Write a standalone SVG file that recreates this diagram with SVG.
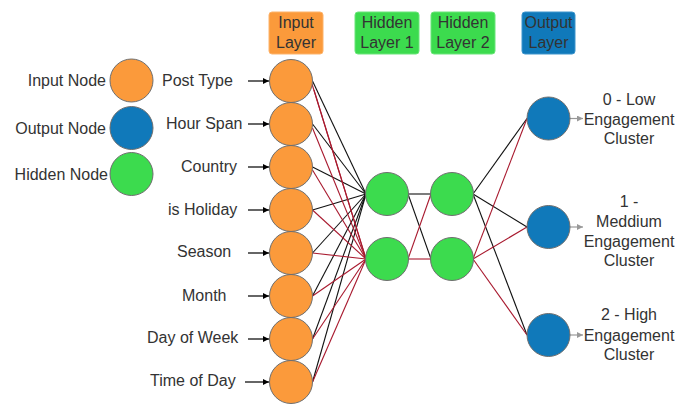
<svg xmlns="http://www.w3.org/2000/svg" width="694" height="406" viewBox="0 0 694 406">
  <style>
    text { font-family: "Liberation Sans", Arial, sans-serif; font-size: 16px; fill: #333333; }
    .mid { text-anchor: middle; }
    .end { text-anchor: end; }
    .node { stroke: #6e6e6e; stroke-width: 1; }
    .in { fill: #fb9a3b; }
    .hid { fill: #3cdb4e; }
    .out { fill: #1079ba; }
    .pos { stroke: #111111; stroke-width: 1.1; fill: none; }
    .neg { stroke: #a8192e; stroke-width: 1.1; fill: none; }
    .feed { stroke: #000000; stroke-width: 1.2; marker-end: url(#arrowIn); }
    .emit { stroke: #999999; stroke-width: 1.2; marker-end: url(#arrowOut); }
  </style>
  <defs>
    <marker id="arrowIn" viewBox="0 0 10 10" refX="10" refY="5" markerWidth="7" markerHeight="6" markerUnits="userSpaceOnUse" orient="auto">
      <path d="M0,0 L10,5 L0,10 z" fill="#000000"/>
    </marker>
    <marker id="arrowOut" viewBox="0 0 10 10" refX="10" refY="5" markerWidth="7" markerHeight="6" markerUnits="userSpaceOnUse" orient="auto">
      <path d="M0,0 L10,5 L0,10 z" fill="#999999"/>
    </marker>
  </defs>

  <!-- layer headers -->
  <g id="hdr-input">
    <rect x="269" y="12" width="54" height="42" rx="3" fill="#fb9a3b" stroke="#fdb36b" stroke-width="1"/>
    <text class="mid" x="296" y="28">Input</text>
    <text class="mid" x="296" y="48">Layer</text>
  </g>
  <g id="hdr-hidden1">
    <rect x="355" y="12" width="64" height="42" rx="3" fill="#3cdb4e" stroke="#6be57a" stroke-width="1"/>
    <text class="mid" x="387" y="28">Hidden</text>
    <text class="mid" x="387" y="48">Layer 1</text>
  </g>
  <g id="hdr-hidden2">
    <rect x="431" y="12" width="64" height="42" rx="3" fill="#3cdb4e" stroke="#6be57a" stroke-width="1"/>
    <text class="mid" x="463" y="28">Hidden</text>
    <text class="mid" x="463" y="48">Layer 2</text>
  </g>
  <g id="hdr-output">
    <rect x="522" y="12" width="53" height="42" rx="3" fill="#1079ba" stroke="#3d95cc" stroke-width="1"/>
    <text class="mid" x="548.5" y="28">Output</text>
    <text class="mid" x="548.5" y="48">Layer</text>
  </g>

  <!-- legend -->
  <g id="legend-input">
    <circle class="node in" cx="131.5" cy="80.5" r="21.5"/>
    <text class="end" x="106" y="86">Input Node</text>
  </g>
  <g id="legend-output">
    <circle class="node out" cx="131.5" cy="128" r="21.5"/>
    <text class="end" x="106" y="134">Output Node</text>
  </g>
  <g id="legend-hidden">
    <circle class="node hid" cx="131.5" cy="174" r="21.5"/>
    <text class="end" x="108" y="180">Hidden Node</text>
  </g>

  <!-- connectors -->
  <g id="connectors">
    <!-- feature feeds -->
    <line class="feed" x1="248" y1="81" x2="269" y2="81"/>
    <line class="feed" x1="248" y1="124" x2="269" y2="124"/>
    <line class="feed" x1="248" y1="167" x2="269" y2="167"/>
    <line class="feed" x1="248" y1="210" x2="269" y2="210"/>
    <line class="feed" x1="248" y1="253" x2="269" y2="253"/>
    <line class="feed" x1="248" y1="296" x2="269" y2="296"/>
    <line class="feed" x1="248" y1="339" x2="269" y2="339"/>
    <line class="feed" x1="245" y1="382" x2="269" y2="382"/>

    <!-- input to hidden 1 -->
    <line class="pos" x1="312.5" y1="81" x2="366" y2="194"/>
    <line class="pos" x1="312.5" y1="124" x2="366" y2="194"/>
    <line class="pos" x1="312.5" y1="167" x2="366" y2="194"/>
    <line class="pos" x1="312.5" y1="210" x2="366" y2="194"/>
    <line class="pos" x1="312.5" y1="253" x2="366" y2="194"/>
    <line class="pos" x1="312.5" y1="296" x2="366" y2="194"/>
    <line class="pos" x1="312.5" y1="339" x2="366" y2="194"/>
    <line class="pos" x1="312.5" y1="382" x2="366" y2="194"/>
    <line class="neg" x1="312" y1="84" x2="366" y2="259"/>
    <line class="neg" x1="314" y1="90" x2="366" y2="259"/>
    <line class="neg" x1="312.5" y1="128" x2="366" y2="259"/>
    <line class="neg" x1="312.5" y1="170" x2="366" y2="259"/>
    <line class="neg" x1="312.5" y1="210" x2="366" y2="259"/>
    <line class="neg" x1="312.5" y1="253" x2="366" y2="259"/>
    <line class="neg" x1="312.5" y1="296" x2="366" y2="259"/>
    <line class="neg" x1="312.5" y1="339" x2="366" y2="259"/>
    <line class="neg" x1="312.5" y1="382" x2="366" y2="259"/>

    <!-- hidden 1 to hidden 2 -->
    <line class="pos" x1="408" y1="194" x2="431" y2="194"/>
    <line class="pos" x1="408" y1="194" x2="431" y2="259"/>
    <line class="neg" x1="408" y1="259" x2="431" y2="194"/>
    <line class="neg" x1="408" y1="259" x2="431" y2="259"/>

    <!-- hidden 2 to output -->
    <line class="pos" x1="473" y1="194" x2="527" y2="118.5"/>
    <line class="pos" x1="473" y1="194" x2="527" y2="227"/>
    <line class="pos" x1="473" y1="194" x2="527" y2="335"/>
    <line class="neg" x1="473" y1="259" x2="527" y2="118.5"/>
    <line class="neg" x1="473" y1="259" x2="527" y2="227"/>
    <line class="neg" x1="473" y1="259" x2="527" y2="335"/>

    <!-- output emits -->
    <line class="emit" x1="570" y1="118.5" x2="583" y2="118.5"/>
    <line class="emit" x1="570" y1="227" x2="583" y2="227"/>
    <line class="emit" x1="570" y1="335" x2="583" y2="335"/>
  </g>

  <!-- input layer -->
  <g id="in-post-type">
    <circle class="node in" cx="291" cy="81" r="21.5"/>
    <text x="162" y="86">Post Type</text>
  </g>
  <g id="in-hour-span">
    <circle class="node in" cx="291" cy="124" r="21.5"/>
    <text x="166" y="129">Hour Span</text>
  </g>
  <g id="in-country">
    <circle class="node in" cx="291" cy="167" r="21.5"/>
    <text x="181" y="172">Country</text>
  </g>
  <g id="in-is-holiday">
    <circle class="node in" cx="291" cy="210" r="21.5"/>
    <text x="168" y="215">is Holiday</text>
  </g>
  <g id="in-season">
    <circle class="node in" cx="291" cy="253" r="21.5"/>
    <text x="177" y="257">Season</text>
  </g>
  <g id="in-month">
    <circle class="node in" cx="291" cy="296" r="21.5"/>
    <text x="182" y="301">Month</text>
  </g>
  <g id="in-day-of-week">
    <circle class="node in" cx="291" cy="339" r="21.5"/>
    <text x="147" y="343">Day of Week</text>
  </g>
  <g id="in-time-of-day">
    <circle class="node in" cx="291" cy="382" r="21.5"/>
    <text x="150" y="386">Time of Day</text>
  </g>

  <!-- hidden layers -->
  <g id="h1-a"><circle class="node hid" cx="387" cy="194" r="21.5"/></g>
  <g id="h1-b"><circle class="node hid" cx="387" cy="259" r="21.5"/></g>
  <g id="h2-a"><circle class="node hid" cx="452" cy="194" r="21.5"/></g>
  <g id="h2-b"><circle class="node hid" cx="452" cy="259" r="21.5"/></g>

  <!-- output layer -->
  <g id="out-low">
    <circle class="node out" cx="548.5" cy="118.5" r="21.5"/>
    <text class="mid" x="629" y="105">0 - Low</text>
    <text class="mid" x="629" y="124.5">Engagement</text>
    <text class="mid" x="629" y="144">Cluster</text>
  </g>
  <g id="out-medium">
    <circle class="node out" cx="548.5" cy="227" r="21.5"/>
    <text class="mid" x="629" y="207">1 -</text>
    <text class="mid" x="629" y="227">Meddium</text>
    <text class="mid" x="629" y="246.5">Engagement</text>
    <text class="mid" x="629" y="266">Cluster</text>
  </g>
  <g id="out-high">
    <circle class="node out" cx="548.5" cy="335" r="21.5"/>
    <text class="mid" x="629" y="320">2 - High</text>
    <text class="mid" x="629" y="340.5">Engagement</text>
    <text class="mid" x="629" y="360">Cluster</text>
  </g>
</svg>
